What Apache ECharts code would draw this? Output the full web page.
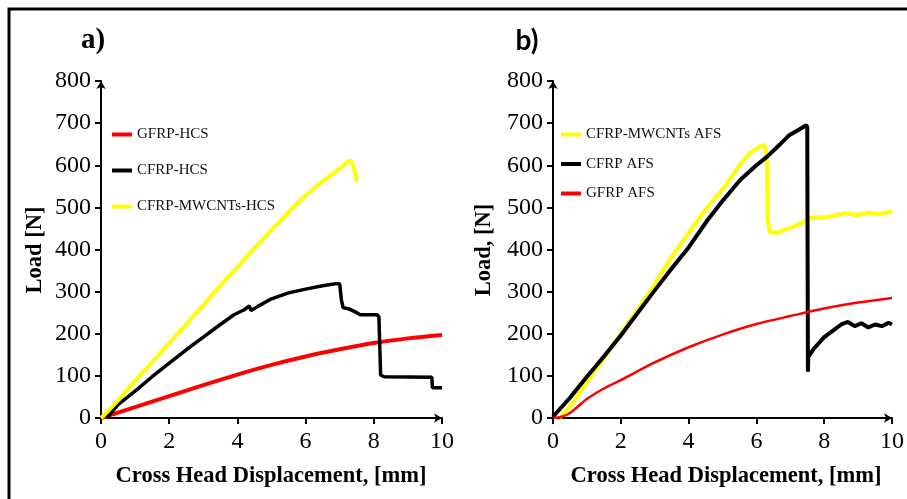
<!DOCTYPE html>
<html>
<head>
<meta charset="utf-8">
<script src="https://cdn.jsdelivr.net/npm/echarts@6/dist/echarts.min.js"></script>
<style>html,body{margin:0;padding:0;background:#fff}#c{width:907px;height:499px}</style>
</head>
<body>
<div id="c"></div>
<script>
// ---- data (x: cross head displacement [mm], y: load [N]) ----
const xTickStep = 2;
const yTickStep = 100;
const legendA = ['GFRP-HCS', 'CFRP-HCS', 'CFRP-MWCNTs-HCS'];
const legendB = ['CFRP-MWCNTs AFS', 'CFRP AFS', 'GFRP AFS'];

const gfrpHcs = [[0,0],[1,26],[2,52],[3,78],[4,103],[5,126],[6,146],[7,163],[8,178],[9,189],[10,197]];
const cfrpHcs = [[0.17,0],[0.5,32],[1,64],[1.5,98],[2,130],[2.5,162],[3,192],[3.5,222],[3.9,245],[4.2,257],[4.35,266],[4.4,255],[4.6,265],[5,283],[5.5,297],[6,306],[6.5,314],[6.9,319],[7.0,318],[7.05,280],[7.1,262],[7.3,258],[7.5,250],[7.6,245],[8.1,245],[8.15,240],[8.2,102],[8.3,98],[9.7,97],[9.72,72],[9.75,70],[10,72]];
const cfrpMwHcs = [[0,0],[0.5,42],[1,88],[2,178],[3,268],[3.34,300],[4,358],[4.46,400],[5,446],[5.63,500],[6,528],[6.5,562],[7,592],[7.3,611],[7.4,598],[7.45,580],[7.5,562]];

const cfrpMwAfs = [[0.2,0],[0.58,36],[1,85],[1.5,142],[2,200],[2.5,258],[3,318],[3.49,382],[4.07,447],[4.5,495],[5.06,549],[5.5,600],[5.81,629],[6.1,645],[6.22,648],[6.28,635],[6.31,600],[6.33,470],[6.4,441],[6.6,440],[6.8,446],[7.2,458],[7.67,477],[8,476],[8.3,481],[8.6,486],[9,482],[9.3,488],[9.6,484],[10,490]];
const cfrpAfs = [[0,3],[0.5,48],[1,98],[1.5,146],[2,196],[2.5,250],[3,303],[3.5,355],[4,405],[4.56,470],[5,515],[5.52,565],[6,600],[6.31,620],[6.7,650],[6.98,672],[7.2,682],[7.47,695],[7.5,690],[7.52,110],[7.53,145],[7.7,165],[8,192],[8.3,210],[8.5,222],[8.7,228],[8.9,218],[9.1,225],[9.3,215],[9.5,222],[9.7,218],[9.9,226],[10,222]];
const gfrpAfs = [[0,0],[0.25,3],[0.5,12],[1,45],[1.5,70],[2,90],[3,132],[4,168],[5,198],[6,223],[7,242],[8,260],[9,274],[10,285]];

const serif = '"Liberation Serif", "Times New Roman", serif';
const chart = echarts.init(document.getElementById('c'), null, {renderer: 'canvas'});

function xAx(gi) {
  return {
    type: 'value', gridIndex: gi, min: 0, max: 10, interval: xTickStep,
    axisLine: {show: true, onZero: false, lineStyle: {color: '#000', width: 2}, symbol: ['none', 'arrow'], symbolSize: [7, 8]},
    axisTick: {show: true, inside: false, length: 6, lineStyle: {color: '#000', width: 2}},
    axisLabel: {color: '#000', fontFamily: serif, fontSize: 24, margin: 12},
    splitLine: {show: false}
  };
}
function yAx(gi) {
  return {
    type: 'value', gridIndex: gi, min: 0, max: 800, interval: yTickStep,
    axisLine: {show: true, onZero: false, lineStyle: {color: '#000', width: 2}, symbol: ['none', 'arrow'], symbolSize: [7, 8]},
    axisTick: {show: true, inside: false, length: 6, lineStyle: {color: '#000', width: 2}},
    axisLabel: {color: '#000', fontFamily: serif, fontSize: 24, margin: 10},
    splitLine: {show: false}
  };
}
function ser(name, data, color, width, gi, smooth) {
  return {
    name: name, type: 'line', xAxisIndex: gi, yAxisIndex: gi, data: data,
    showSymbol: false, symbol: 'none', smooth: smooth || false,
    lineStyle: {color: color, width: width}, itemStyle: {color: color},
    animation: false
  };
}
const legendText = {color: '#111', fontFamily: serif, fontSize: 15};

chart.setOption({
  backgroundColor: '#fff',
  animation: false,
  grid: [
    {left: 101, top: 81, width: 341, height: 337},
    {left: 553, top: 81, width: 344, height: 337}
  ],
  xAxis: [xAx(0), xAx(1)],
  yAxis: [yAx(0), yAx(1)],
  legend: [
    {data: legendA, orient: 'vertical', left: 107, top: 122, itemWidth: 20, itemHeight: 4, itemGap: 21,
     icon: 'rect', textStyle: legendText, selectedMode: false},
    {data: legendB, orient: 'vertical', left: 556, top: 122, itemWidth: 20, itemHeight: 4, itemGap: 14.5,
     icon: 'rect', textStyle: legendText, selectedMode: false}
  ],
  series: [
    ser(legendA[0], gfrpHcs, '#FF0000', 4, 0, 0.3),
    ser(legendA[1], cfrpHcs, '#000000', 3.5, 0, false),
    ser(legendA[2], cfrpMwHcs, '#FFFF00', 4, 0, 0.2),
    ser(legendB[0], cfrpMwAfs, '#FFFF00', 4, 1, false),
    ser(legendB[1], cfrpAfs, '#000000', 4, 1, false),
    ser(legendB[2], gfrpAfs, '#FF0000', 2.5, 1, 0.3)
  ],
  graphic: [
    {type: 'polyline', shape: {points: [[9, 499], [9, 9], [907, 9]]}, style: {stroke: '#000', lineWidth: 3, fill: null}},
    {type: 'text', x: 93, y: 41, style: {text: 'a)', font: 'bold 29px ' + serif, fill: '#000', textAlign: 'center', textVerticalAlign: 'middle'}},
    {type: 'text', x: 527, y: 41, style: {text: 'b)', font: 'bold 28px Lato, "Open Sans", sans-serif', fill: '#000', textAlign: 'center', textVerticalAlign: 'middle'}},
    {type: 'text', x: 271, y: 476, style: {text: 'Cross Head Displacement, [mm]', font: 'bold 22.5px ' + serif, fill: '#000', textAlign: 'center', textVerticalAlign: 'middle'}},
    {type: 'text', x: 726, y: 476, style: {text: 'Cross Head Displacement, [mm]', font: 'bold 22.5px ' + serif, fill: '#000', textAlign: 'center', textVerticalAlign: 'middle'}},
    {type: 'text', x: 35, y: 250, rotation: Math.PI / 2, style: {text: 'Load [N]', font: 'bold 22.5px ' + serif, fill: '#000', textAlign: 'center', textVerticalAlign: 'middle'}},
    {type: 'text', x: 484, y: 250, rotation: Math.PI / 2, style: {text: 'Load, [N]', font: 'bold 22.5px ' + serif, fill: '#000', textAlign: 'center', textVerticalAlign: 'middle'}}
  ]
});
</script>
</body>
</html>
